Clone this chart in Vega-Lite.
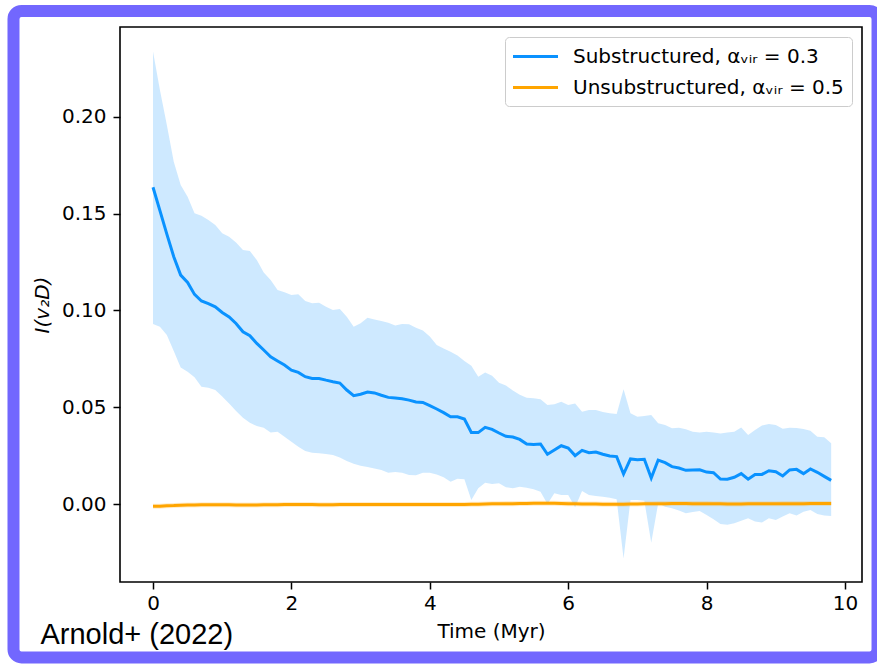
{
  "$schema": "https://vega.github.io/schema/vega-lite/v6.json",
  "width": 742,
  "height": 555,
  "autosize": {"type": "none"},
  "padding": {"left": 120, "top": 27, "right": 15, "bottom": 83},
  "background": "white",
  "config": {
    "font": "DejaVu Sans",
    "view": {"stroke": "black", "strokeWidth": 1.6},
    "axis": {
      "domain": false, "grid": false, "tickColor": "black", "tickWidth": 1.5, "tickSize": 7,
      "labelFont": "DejaVu Sans", "labelFontSize": 20, "labelColor": "black",
      "titleFont": "DejaVu Sans", "titleFontSize": 20, "titleFontWeight": "normal", "titleColor": "black"
    },
    "legend": {
      "orient": "top-right", "offset": 10, "padding": 8, "strokeColor": "#cccccc", "cornerRadius": 4, "fillColor": "white",
      "labelFont": "DejaVu Sans", "labelFontSize": 20, "labelColor": "black", "labelLimit": 500,
      "symbolType": "M-2.25,0L2.25,0", "symbolSize": 400, "symbolStrokeWidth": 3, "symbolOffset": 11,
      "labelOffset": 26, "rowPadding": 9
    }
  },
  "title": {
    "text": "Arnold+ (2022)", "orient": "bottom", "anchor": "start", "frame": "bounds",
    "font": "Liberation Sans", "fontSize": 29, "fontWeight": "normal", "color": "black", "dx": 33, "dy": -46
  },
  "resolve": {"scale": {"color": "independent"}},
  "data": {"values": [
    {"t":0.0,"s":"a","m":0.1637,"lo":0.0930,"hi":0.2338},
    {"t":0.1,"s":"a","m":0.1516,"lo":0.0916,"hi":0.2140},
    {"t":0.2,"s":"a","m":0.1395,"lo":0.0873,"hi":0.1959},
    {"t":0.3,"s":"a","m":0.1278,"lo":0.0791,"hi":0.1769},
    {"t":0.4,"s":"a","m":0.1183,"lo":0.0706,"hi":0.1649},
    {"t":0.5,"s":"a","m":0.1145,"lo":0.0684,"hi":0.1588},
    {"t":0.6,"s":"a","m":0.1083,"lo":0.0655,"hi":0.1502},
    {"t":0.7,"s":"a","m":0.1049,"lo":0.0606,"hi":0.1490},
    {"t":0.8,"s":"a","m":0.1035,"lo":0.0601,"hi":0.1468},
    {"t":0.9,"s":"a","m":0.1019,"lo":0.0589,"hi":0.1442},
    {"t":1.0,"s":"a","m":0.0990,"lo":0.0555,"hi":0.1399},
    {"t":1.1,"s":"a","m":0.0967,"lo":0.0520,"hi":0.1381},
    {"t":1.2,"s":"a","m":0.0933,"lo":0.0481,"hi":0.1352},
    {"t":1.3,"s":"a","m":0.0890,"lo":0.0446,"hi":0.1313},
    {"t":1.4,"s":"a","m":0.0870,"lo":0.0420,"hi":0.1307},
    {"t":1.5,"s":"a","m":0.0830,"lo":0.0403,"hi":0.1261},
    {"t":1.6,"s":"a","m":0.0796,"lo":0.0394,"hi":0.1197},
    {"t":1.7,"s":"a","m":0.0761,"lo":0.0370,"hi":0.1158},
    {"t":1.8,"s":"a","m":0.0739,"lo":0.0374,"hi":0.1106},
    {"t":1.9,"s":"a","m":0.0718,"lo":0.0348,"hi":0.1094},
    {"t":2.0,"s":"a","m":0.0692,"lo":0.0322,"hi":0.1080},
    {"t":2.1,"s":"a","m":0.0680,"lo":0.0296,"hi":0.1084},
    {"t":2.2,"s":"a","m":0.0658,"lo":0.0274,"hi":0.1049},
    {"t":2.3,"s":"a","m":0.0649,"lo":0.0265,"hi":0.1037},
    {"t":2.4,"s":"a","m":0.0649,"lo":0.0262,"hi":0.1040},
    {"t":2.5,"s":"a","m":0.0640,"lo":0.0258,"hi":0.1020},
    {"t":2.6,"s":"a","m":0.0632,"lo":0.0253,"hi":0.1003},
    {"t":2.7,"s":"a","m":0.0625,"lo":0.0241,"hi":0.1008},
    {"t":2.8,"s":"a","m":0.0589,"lo":0.0222,"hi":0.0968},
    {"t":2.9,"s":"a","m":0.0560,"lo":0.0208,"hi":0.0916},
    {"t":3.0,"s":"a","m":0.0567,"lo":0.0198,"hi":0.0934},
    {"t":3.1,"s":"a","m":0.0579,"lo":0.0191,"hi":0.0963},
    {"t":3.2,"s":"a","m":0.0574,"lo":0.0184,"hi":0.0954},
    {"t":3.3,"s":"a","m":0.0562,"lo":0.0176,"hi":0.0946},
    {"t":3.4,"s":"a","m":0.0551,"lo":0.0162,"hi":0.0937},
    {"t":3.5,"s":"a","m":0.0548,"lo":0.0165,"hi":0.0922},
    {"t":3.6,"s":"a","m":0.0544,"lo":0.0162,"hi":0.0930},
    {"t":3.7,"s":"a","m":0.0537,"lo":0.0150,"hi":0.0929},
    {"t":3.8,"s":"a","m":0.0527,"lo":0.0148,"hi":0.0911},
    {"t":3.9,"s":"a","m":0.0525,"lo":0.0162,"hi":0.0896},
    {"t":4.0,"s":"a","m":0.0508,"lo":0.0162,"hi":0.0865},
    {"t":4.1,"s":"a","m":0.0491,"lo":0.0153,"hi":0.0822},
    {"t":4.2,"s":"a","m":0.0472,"lo":0.0138,"hi":0.0803},
    {"t":4.3,"s":"a","m":0.0451,"lo":0.0115,"hi":0.0787},
    {"t":4.4,"s":"a","m":0.0451,"lo":0.0131,"hi":0.0768},
    {"t":4.5,"s":"a","m":0.0439,"lo":0.0128,"hi":0.0739},
    {"t":4.6,"s":"a","m":0.0370,"lo":0.0021,"hi":0.0715},
    {"t":4.7,"s":"a","m":0.0369,"lo":0.0081,"hi":0.0658},
    {"t":4.8,"s":"a","m":0.0396,"lo":0.0110,"hi":0.0679},
    {"t":4.9,"s":"a","m":0.0386,"lo":0.0103,"hi":0.0663},
    {"t":5.0,"s":"a","m":0.0367,"lo":0.0107,"hi":0.0627},
    {"t":5.1,"s":"a","m":0.0350,"lo":0.0087,"hi":0.0613},
    {"t":5.2,"s":"a","m":0.0346,"lo":0.0081,"hi":0.0586},
    {"t":5.3,"s":"a","m":0.0334,"lo":0.0089,"hi":0.0565},
    {"t":5.4,"s":"a","m":0.0310,"lo":0.0084,"hi":0.0549},
    {"t":5.5,"s":"a","m":0.0308,"lo":0.0076,"hi":0.0546},
    {"t":5.6,"s":"a","m":0.0310,"lo":0.0064,"hi":0.0541},
    {"t":5.7,"s":"a","m":0.0257,"lo":0.0000,"hi":0.0512},
    {"t":5.8,"s":"a","m":0.0279,"lo":0.0055,"hi":0.0515},
    {"t":5.9,"s":"a","m":0.0301,"lo":0.0047,"hi":0.0529},
    {"t":6.0,"s":"a","m":0.0289,"lo":0.0047,"hi":0.0512},
    {"t":6.1,"s":"a","m":0.0250,"lo":-0.0017,"hi":0.0520},
    {"t":6.2,"s":"a","m":0.0277,"lo":0.0067,"hi":0.0477},
    {"t":6.3,"s":"a","m":0.0265,"lo":0.0047,"hi":0.0486},
    {"t":6.4,"s":"a","m":0.0269,"lo":0.0041,"hi":0.0486},
    {"t":6.5,"s":"a","m":0.0257,"lo":0.0038,"hi":0.0475},
    {"t":6.6,"s":"a","m":0.0248,"lo":0.0033,"hi":0.0469},
    {"t":6.7,"s":"a","m":0.0245,"lo":0.0024,"hi":0.0465},
    {"t":6.8,"s":"a","m":0.0155,"lo":-0.0281,"hi":0.0593},
    {"t":6.9,"s":"a","m":0.0233,"lo":0.0021,"hi":0.0469},
    {"t":7.0,"s":"a","m":0.0229,"lo":0.0021,"hi":0.0451},
    {"t":7.1,"s":"a","m":0.0231,"lo":0.0017,"hi":0.0455},
    {"t":7.2,"s":"a","m":0.0134,"lo":-0.0200,"hi":0.0460},
    {"t":7.3,"s":"a","m":0.0227,"lo":0.0003,"hi":0.0417},
    {"t":7.4,"s":"a","m":0.0214,"lo":-0.0014,"hi":0.0408},
    {"t":7.5,"s":"a","m":0.0193,"lo":-0.0022,"hi":0.0391},
    {"t":7.6,"s":"a","m":0.0186,"lo":-0.0034,"hi":0.0394},
    {"t":7.7,"s":"a","m":0.0174,"lo":-0.0048,"hi":0.0386},
    {"t":7.8,"s":"a","m":0.0176,"lo":-0.0041,"hi":0.0374},
    {"t":7.9,"s":"a","m":0.0177,"lo":-0.0036,"hi":0.0369},
    {"t":8.0,"s":"a","m":0.0165,"lo":-0.0057,"hi":0.0374},
    {"t":8.1,"s":"a","m":0.0162,"lo":-0.0079,"hi":0.0370},
    {"t":8.2,"s":"a","m":0.0129,"lo":-0.0103,"hi":0.0365},
    {"t":8.3,"s":"a","m":0.0128,"lo":-0.0107,"hi":0.0369},
    {"t":8.4,"s":"a","m":0.0138,"lo":-0.0100,"hi":0.0374},
    {"t":8.5,"s":"a","m":0.0157,"lo":-0.0086,"hi":0.0396},
    {"t":8.6,"s":"a","m":0.0128,"lo":-0.0074,"hi":0.0357},
    {"t":8.7,"s":"a","m":0.0153,"lo":-0.0091,"hi":0.0382},
    {"t":8.8,"s":"a","m":0.0153,"lo":-0.0096,"hi":0.0406},
    {"t":8.9,"s":"a","m":0.0172,"lo":-0.0074,"hi":0.0413},
    {"t":9.0,"s":"a","m":0.0167,"lo":-0.0083,"hi":0.0408},
    {"t":9.1,"s":"a","m":0.0145,"lo":-0.0065,"hi":0.0389},
    {"t":9.2,"s":"a","m":0.0176,"lo":-0.0048,"hi":0.0394},
    {"t":9.3,"s":"a","m":0.0179,"lo":-0.0060,"hi":0.0393},
    {"t":9.4,"s":"a","m":0.0157,"lo":-0.0040,"hi":0.0388},
    {"t":9.5,"s":"a","m":0.0181,"lo":-0.0031,"hi":0.0379},
    {"t":9.6,"s":"a","m":0.0164,"lo":-0.0052,"hi":0.0348},
    {"t":9.7,"s":"a","m":0.0143,"lo":-0.0060,"hi":0.0345},
    {"t":9.8,"s":"a","m":0.0122,"lo":-0.0062,"hi":0.0314},
    {"t":0.0,"s":"b","m":-0.0012,"lo":-0.0025,"hi":0.0001},
    {"t":0.1,"s":"b","m":-0.0011,"lo":-0.0024,"hi":0.0002},
    {"t":0.2,"s":"b","m":-0.0009,"lo":-0.0022,"hi":0.0004},
    {"t":0.3,"s":"b","m":-0.0008,"lo":-0.0021,"hi":0.0005},
    {"t":0.4,"s":"b","m":-0.0006,"lo":-0.0019,"hi":0.0007},
    {"t":0.5,"s":"b","m":-0.0005,"lo":-0.0018,"hi":0.0008},
    {"t":0.6,"s":"b","m":-0.0005,"lo":-0.0018,"hi":0.0008},
    {"t":0.7,"s":"b","m":-0.0004,"lo":-0.0017,"hi":0.0009},
    {"t":0.8,"s":"b","m":-0.0004,"lo":-0.0017,"hi":0.0009},
    {"t":0.9,"s":"b","m":-0.0004,"lo":-0.0017,"hi":0.0009},
    {"t":1.0,"s":"b","m":-0.0004,"lo":-0.0017,"hi":0.0009},
    {"t":1.1,"s":"b","m":-0.0004,"lo":-0.0017,"hi":0.0009},
    {"t":1.2,"s":"b","m":-0.0005,"lo":-0.0018,"hi":0.0008},
    {"t":1.3,"s":"b","m":-0.0005,"lo":-0.0018,"hi":0.0008},
    {"t":1.4,"s":"b","m":-0.0005,"lo":-0.0018,"hi":0.0008},
    {"t":1.5,"s":"b","m":-0.0005,"lo":-0.0018,"hi":0.0008},
    {"t":1.6,"s":"b","m":-0.0004,"lo":-0.0017,"hi":0.0009},
    {"t":1.7,"s":"b","m":-0.0004,"lo":-0.0017,"hi":0.0009},
    {"t":1.8,"s":"b","m":-0.0004,"lo":-0.0017,"hi":0.0009},
    {"t":1.9,"s":"b","m":-0.0003,"lo":-0.0016,"hi":0.0010},
    {"t":2.0,"s":"b","m":-0.0003,"lo":-0.0016,"hi":0.0010},
    {"t":2.1,"s":"b","m":-0.0003,"lo":-0.0016,"hi":0.0010},
    {"t":2.2,"s":"b","m":-0.0003,"lo":-0.0016,"hi":0.0010},
    {"t":2.3,"s":"b","m":-0.0003,"lo":-0.0016,"hi":0.0010},
    {"t":2.4,"s":"b","m":-0.0004,"lo":-0.0017,"hi":0.0009},
    {"t":2.5,"s":"b","m":-0.0004,"lo":-0.0017,"hi":0.0009},
    {"t":2.6,"s":"b","m":-0.0004,"lo":-0.0017,"hi":0.0009},
    {"t":2.7,"s":"b","m":-0.0003,"lo":-0.0016,"hi":0.0010},
    {"t":2.8,"s":"b","m":-0.0003,"lo":-0.0016,"hi":0.0010},
    {"t":2.9,"s":"b","m":-0.0003,"lo":-0.0016,"hi":0.0010},
    {"t":3.0,"s":"b","m":-0.0002,"lo":-0.0015,"hi":0.0011},
    {"t":3.1,"s":"b","m":-0.0002,"lo":-0.0015,"hi":0.0011},
    {"t":3.2,"s":"b","m":-0.0003,"lo":-0.0016,"hi":0.0010},
    {"t":3.3,"s":"b","m":-0.0003,"lo":-0.0016,"hi":0.0010},
    {"t":3.4,"s":"b","m":-0.0002,"lo":-0.0015,"hi":0.0011},
    {"t":3.5,"s":"b","m":-0.0002,"lo":-0.0015,"hi":0.0011},
    {"t":3.6,"s":"b","m":-0.0002,"lo":-0.0015,"hi":0.0011},
    {"t":3.7,"s":"b","m":-0.0003,"lo":-0.0016,"hi":0.0010},
    {"t":3.8,"s":"b","m":-0.0002,"lo":-0.0015,"hi":0.0011},
    {"t":3.9,"s":"b","m":-0.0002,"lo":-0.0015,"hi":0.0011},
    {"t":4.0,"s":"b","m":-0.0002,"lo":-0.0015,"hi":0.0011},
    {"t":4.1,"s":"b","m":-0.0003,"lo":-0.0016,"hi":0.0010},
    {"t":4.2,"s":"b","m":-0.0003,"lo":-0.0016,"hi":0.0010},
    {"t":4.3,"s":"b","m":-0.0003,"lo":-0.0016,"hi":0.0010},
    {"t":4.4,"s":"b","m":-0.0002,"lo":-0.0015,"hi":0.0011},
    {"t":4.5,"s":"b","m":-0.0002,"lo":-0.0015,"hi":0.0011},
    {"t":4.6,"s":"b","m":-0.0001,"lo":-0.0014,"hi":0.0012},
    {"t":4.7,"s":"b","m":-0.0001,"lo":-0.0014,"hi":0.0012},
    {"t":4.8,"s":"b","m":0.0000,"lo":-0.0013,"hi":0.0013},
    {"t":4.9,"s":"b","m":0.0001,"lo":-0.0012,"hi":0.0014},
    {"t":5.0,"s":"b","m":0.0001,"lo":-0.0012,"hi":0.0014},
    {"t":5.1,"s":"b","m":0.0002,"lo":-0.0011,"hi":0.0015},
    {"t":5.2,"s":"b","m":0.0002,"lo":-0.0011,"hi":0.0015},
    {"t":5.3,"s":"b","m":0.0003,"lo":-0.0010,"hi":0.0016},
    {"t":5.4,"s":"b","m":0.0003,"lo":-0.0010,"hi":0.0016},
    {"t":5.5,"s":"b","m":0.0004,"lo":-0.0009,"hi":0.0017},
    {"t":5.6,"s":"b","m":0.0004,"lo":-0.0009,"hi":0.0017},
    {"t":5.7,"s":"b","m":0.0004,"lo":-0.0009,"hi":0.0017},
    {"t":5.8,"s":"b","m":0.0004,"lo":-0.0009,"hi":0.0017},
    {"t":5.9,"s":"b","m":0.0003,"lo":-0.0010,"hi":0.0016},
    {"t":6.0,"s":"b","m":0.0002,"lo":-0.0011,"hi":0.0015},
    {"t":6.1,"s":"b","m":0.0001,"lo":-0.0012,"hi":0.0014},
    {"t":6.2,"s":"b","m":0.0000,"lo":-0.0013,"hi":0.0013},
    {"t":6.3,"s":"b","m":0.0000,"lo":-0.0013,"hi":0.0013},
    {"t":6.4,"s":"b","m":0.0000,"lo":-0.0013,"hi":0.0013},
    {"t":6.5,"s":"b","m":-0.0001,"lo":-0.0014,"hi":0.0012},
    {"t":6.6,"s":"b","m":-0.0001,"lo":-0.0014,"hi":0.0012},
    {"t":6.7,"s":"b","m":-0.0001,"lo":-0.0014,"hi":0.0012},
    {"t":6.8,"s":"b","m":-0.0001,"lo":-0.0014,"hi":0.0012},
    {"t":6.9,"s":"b","m":0.0000,"lo":-0.0013,"hi":0.0013},
    {"t":7.0,"s":"b","m":0.0000,"lo":-0.0013,"hi":0.0013},
    {"t":7.1,"s":"b","m":0.0001,"lo":-0.0012,"hi":0.0014},
    {"t":7.2,"s":"b","m":0.0001,"lo":-0.0012,"hi":0.0014},
    {"t":7.3,"s":"b","m":0.0002,"lo":-0.0011,"hi":0.0015},
    {"t":7.4,"s":"b","m":0.0002,"lo":-0.0011,"hi":0.0015},
    {"t":7.5,"s":"b","m":0.0003,"lo":-0.0010,"hi":0.0016},
    {"t":7.6,"s":"b","m":0.0003,"lo":-0.0010,"hi":0.0016},
    {"t":7.7,"s":"b","m":0.0003,"lo":-0.0010,"hi":0.0016},
    {"t":7.8,"s":"b","m":0.0002,"lo":-0.0011,"hi":0.0015},
    {"t":7.9,"s":"b","m":0.0002,"lo":-0.0011,"hi":0.0015},
    {"t":8.0,"s":"b","m":0.0002,"lo":-0.0011,"hi":0.0015},
    {"t":8.1,"s":"b","m":0.0001,"lo":-0.0012,"hi":0.0014},
    {"t":8.2,"s":"b","m":0.0001,"lo":-0.0012,"hi":0.0014},
    {"t":8.3,"s":"b","m":0.0000,"lo":-0.0013,"hi":0.0013},
    {"t":8.4,"s":"b","m":0.0000,"lo":-0.0013,"hi":0.0013},
    {"t":8.5,"s":"b","m":0.0000,"lo":-0.0013,"hi":0.0013},
    {"t":8.6,"s":"b","m":0.0001,"lo":-0.0012,"hi":0.0014},
    {"t":8.7,"s":"b","m":0.0001,"lo":-0.0012,"hi":0.0014},
    {"t":8.8,"s":"b","m":0.0001,"lo":-0.0012,"hi":0.0014},
    {"t":8.9,"s":"b","m":0.0001,"lo":-0.0012,"hi":0.0014},
    {"t":9.0,"s":"b","m":0.0001,"lo":-0.0012,"hi":0.0014},
    {"t":9.1,"s":"b","m":0.0002,"lo":-0.0011,"hi":0.0015},
    {"t":9.2,"s":"b","m":0.0002,"lo":-0.0011,"hi":0.0015},
    {"t":9.3,"s":"b","m":0.0002,"lo":-0.0011,"hi":0.0015},
    {"t":9.4,"s":"b","m":0.0002,"lo":-0.0011,"hi":0.0015},
    {"t":9.5,"s":"b","m":0.0003,"lo":-0.0010,"hi":0.0016},
    {"t":9.6,"s":"b","m":0.0003,"lo":-0.0010,"hi":0.0016},
    {"t":9.7,"s":"b","m":0.0003,"lo":-0.0010,"hi":0.0016},
    {"t":9.8,"s":"b","m":0.0003,"lo":-0.0010,"hi":0.0016}
  ]},
  "layer": [
    {
      "mark": {"type": "area", "opacity": 0.2},
      "encoding": {
        "x": {
          "field": "t", "type": "quantitative", "title": "Time (Myr)",
          "scale": {"domain": [-0.4769, 10.2457], "nice": false, "zero": false},
          "axis": {"values": [0, 2, 4, 6, 8, 10], "format": "d", "labelPadding": 4, "titlePadding": 8}
        },
        "y": {
          "field": "lo", "type": "quantitative", "title": "I(v₂D)",
          "scale": {"domain": [-0.0403, 0.2465], "nice": false, "zero": false},
          "axis": {"values": [0, 0.05, 0.1, 0.15, 0.2], "format": ".2f", "labelPadding": 7, "titlePadding": 9, "titleFontStyle": "italic"}
        },
        "y2": {"field": "hi"},
        "color": {"field": "s", "type": "nominal", "scale": {"domain": ["a", "b"], "range": ["#0a92ff", "#ffa500"]}, "legend": null}
      }
    },
    {
      "mark": {"type": "line", "strokeWidth": 3},
      "encoding": {
        "x": {"field": "t", "type": "quantitative"},
        "y": {"field": "m", "type": "quantitative"},
        "color": {
          "field": "s", "type": "nominal",
          "scale": {"domain": ["a", "b"], "range": ["#0a92ff", "#ffa500"]},
          "legend": {"title": null, "labelExpr": "datum.value == 'a' ? 'Substructured, αᵥᵢᵣ = 0.3' : 'Unsubstructured, αᵥᵢᵣ = 0.5'"}
        }
      }
    },
    {
      "data": {"values": [{"frame": "border"}]},
      "mark": {"type": "rect", "filled": false, "color": "#7267fe", "strokeWidth": 12, "cornerRadius": 8, "clip": false},
      "encoding": {
        "x": {"datum": -2.016, "type": "quantitative"},
        "x2": {"datum": 10.47},
        "y": {"datum": 0.2548, "type": "quantitative"},
        "y2": {"datum": -0.0793}
      }
    }
  ]
}
